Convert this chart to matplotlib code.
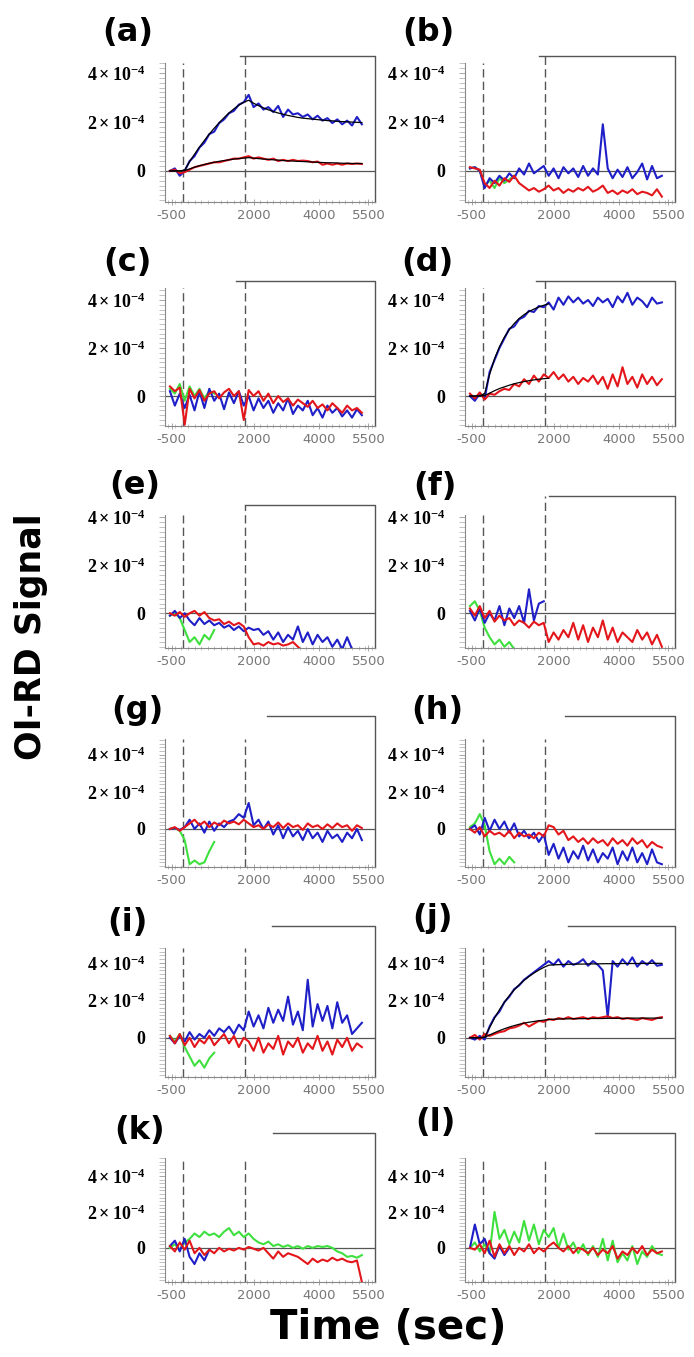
import numpy as np
import matplotlib
matplotlib.use('Agg')
import matplotlib.pyplot as plt
from matplotlib.ticker import MultipleLocator

plt.rcParams['mathtext.fontset'] = 'custom'
plt.rcParams['mathtext.rm'] = 'Liberation Serif:bold'
plt.rcParams['mathtext.it'] = 'Liberation Serif:bold'
plt.rcParams['mathtext.bf'] = 'Liberation Serif:bold'

W, H = 694, 1357

# sampling times of the traces (sec)
t = np.arange(-550, 5301, 150)

# signals in units of 1e-4
blue_a = [0.0, 0.1, -0.2, 0.0, 0.4, 0.6, 0.95, 1.15, 1.5, 1.6,
          1.95, 2.1, 2.35, 2.45, 2.7, 2.8, 3.1, 2.6, 2.75, 2.5,
          2.6, 2.4, 2.65, 2.2, 2.5, 2.3, 2.35, 2.2, 2.3, 2.1,
          2.25, 2.05, 2.15, 1.95, 2.1, 1.9, 2.05, 1.85, 2.2, 1.9]
red_a = [0.0, 0.05, -0.1, -0.05, 0.05, 0.15, 0.2, 0.25, 0.3, 0.35,
         0.35, 0.4, 0.45, 0.5, 0.5, 0.55, 0.6, 0.5, 0.55, 0.5,
         0.45, 0.5, 0.4, 0.45, 0.4, 0.45, 0.4, 0.42, 0.4, 0.35,
         0.38, 0.25, 0.3, 0.25, 0.3, 0.25, 0.3, 0.28, 0.3, 0.28]
fit_blue_a = [0, 0, 0, 0.03, 0.38, 0.68, 0.97, 1.24, 1.5, 1.74,
              1.96, 2.17, 2.36, 2.53, 2.68, 2.8, 2.88, 2.76, 2.66, 2.57,
              2.49, 2.42, 2.36, 2.31, 2.26, 2.22, 2.18, 2.15, 2.13, 2.11,
              2.09, 2.07, 2.05, 2.04, 2.02, 2.01, 2.0, 1.99, 1.98, 1.97]
fit_red_a = [0, 0, 0, 0.01, 0.08, 0.15, 0.21, 0.26, 0.31, 0.35,
             0.39, 0.42, 0.45, 0.48, 0.5, 0.52, 0.54, 0.52, 0.5, 0.48,
             0.47, 0.45, 0.44, 0.42, 0.41, 0.4, 0.39, 0.38, 0.37, 0.36,
             0.35, 0.34, 0.33, 0.33, 0.32, 0.31, 0.31, 0.3, 0.3, 0.3]

blue_b = [0.1, 0.15, 0.0, -0.7, -0.3, -0.5, -0.2, -0.4, -0.1, -0.3,
          0.1, -0.15, 0.3, -0.1, 0.05, 0.2, -0.2, 0.1, -0.3, 0.15,
          -0.1, 0.1, -0.25, 0.2, -0.2, 0.1, -0.15, 1.9, 0.1, -0.3,
          0.05, -0.25, 0.15, -0.3, -0.05, 0.3, -0.35, 0.2, -0.3, -0.2]
red_b = [0.15, 0.1, 0.05, -0.5, -0.7, -0.4, -0.6, -0.3, -0.45, -0.2,
         -0.5, -0.65, -0.8, -0.7, -0.85, -0.75, -0.6, -0.8, -0.7, -0.9,
         -0.75, -0.85, -0.7, -0.8, -0.65, -0.85, -0.75, -0.6, -0.9, -0.8,
         -0.95, -0.8, -0.9, -0.75, -0.95, -0.85, -0.9, -1.0, -0.75, -1.05]
green_b = [0.1, 0.15, 0.0, -0.6, -0.4, -0.7, -0.3, -0.5, -0.35, -0.2]

blue_c = [0.2, -0.4, 0.1, -0.5, 0.05, -0.6, 0.2, -0.5, 0.3, -0.2,
          0.1, -0.55, 0.15, -0.3, 0.2, -0.4, 0.0, -0.6, -0.1, -0.5,
          -0.2, -0.7, -0.3, -0.6, -0.1, -0.75, -0.4, -0.6, -0.2, -0.8,
          -0.5, -0.9, -0.4, -0.7, -0.5, -0.85, -0.6, -0.9, -0.55, -0.8]
red_c = [0.4, 0.2, 0.35, -1.2, 0.3, -0.1, 0.25, -0.2, 0.1, 0.2,
         -0.1, 0.15, 0.3, 0.0, 0.2, -1.0, 0.25, 0.0, 0.2, -0.2,
         0.1, -0.3, 0.0, -0.25, -0.1, -0.4, -0.15, -0.3, -0.45, -0.2,
         -0.5, -0.35, -0.6, -0.3, -0.5, -0.7, -0.4, -0.6, -0.5, -0.7]
green_c = [0.3, 0.1, 0.5, -0.2, 0.4, 0.0, 0.3, -0.1, 0.2, 0.1]

blue_d = [0.0, -0.2, 0.1, -0.1, 1.0, 1.5, 2.0, 2.4, 2.8, 2.9,
          3.2, 3.3, 3.55, 3.5, 3.75, 3.7, 3.9, 3.6, 4.1, 3.8,
          4.15, 3.9, 4.1, 3.85, 4.0, 3.75, 4.1, 3.9, 4.05, 3.7,
          4.15, 3.9, 4.3, 3.8, 4.1, 3.95, 3.7, 4.1, 3.85, 3.9]
red_d = [0.1, -0.1, 0.15, -0.15, 0.1, 0.05, 0.2, 0.3, 0.25, 0.5,
         0.4, 0.7, 0.5, 0.85, 0.6, 0.9, 0.75, 1.0, 0.7, 0.9,
         0.6, 0.8, 0.5, 0.75, 0.6, 0.85, 0.5, 0.8, 0.3, 0.9,
         0.4, 1.2, 0.5, 0.8, 0.35, 0.9, 0.5, 0.8, 0.45, 0.7]
fit_blue_d = [0, 0, 0, 0.1, 0.9, 1.55, 2.05, 2.45, 2.77, 3.02,
              3.23, 3.39, 3.52, 3.62, 3.71, 3.78, 3.84]
fit_red_d = [0, 0, 0, 0.02, 0.12, 0.22, 0.31, 0.38, 0.45, 0.51,
             0.56, 0.6, 0.64, 0.67, 0.7, 0.72, 0.74]

blue_e = [-0.1, 0.1, -0.2, 0.0, -0.3, -0.5, -0.2, -0.45, -0.3, -0.5,
          -0.4, -0.6, -0.5, -0.7, -0.55, -0.75, -0.6, -0.7, -0.65, -0.9,
          -0.75, -1.1, -0.8, -1.2, -0.9, -1.1, -0.55, -1.2, -0.8, -1.3,
          -0.9, -1.2, -1.0, -1.4, -1.1, -1.5, -1.0, -1.5]
red_e = [0.0, -0.1, 0.05, -0.15, 0.0, 0.1, -0.1, 0.05, -0.2, -0.3,
         -0.25, -0.45, -0.35, -0.5, -0.4, -0.55, -1.0, -1.3, -1.25, -1.35,
         -1.2, -1.3, -1.25, -1.35, -1.3, -1.2, -1.4, -1.6]
green_e = [-0.1, 0.0, -0.2, -0.7, -1.2, -1.0, -1.3, -0.9, -1.1, -0.7]

blue_f = [0.1, -0.3, 0.2, -0.4, 0.0, -0.3, 0.3, -0.5, 0.2, -0.2,
          0.3, -0.4, 1.0, -0.3, 0.4, 0.5]
red_f = [0.2, -0.1, 0.3, -0.2, 0.1, -0.35, -0.1, -0.3, -0.2, -0.5,
         -0.3, -0.4, -0.6, -0.35, -0.5, -0.4, -1.2, -0.8, -1.1, -0.7,
         -1.0, -0.4, -1.1, -0.5, -1.2, -0.6, -1.0, -0.3, -1.1, -0.6,
         -1.2, -0.8, -1.0, -1.2, -0.7, -1.1, -0.8, -1.3, -0.9, -1.4]
green_f = [0.3, 0.5, 0.1, -0.6, -1.0, -1.3, -1.1, -1.4, -1.2, -1.5]

blue_g = [0.0, 0.05, -0.05, 0.1, 0.5, 0.0, 0.3, -0.2, 0.4, -0.1,
          0.3, 0.1, 0.4, 0.5, 0.8, 0.6, 1.4, 0.2, 0.5, 0.0,
          0.4, -0.3, 0.2, -0.5, 0.1, -0.4, -0.1, -0.6, 0.0, -0.5,
          -0.2, -0.7, -0.1, -0.5, -0.3, -0.7, -0.2, -0.5, 0.0, -0.6]
red_g = [0.0, 0.1, -0.1, 0.1, 0.3, 0.5, 0.2, 0.4, 0.1, 0.35,
         0.2, 0.45, 0.3, 0.4, 0.25, 0.5, 0.3, 0.1, 0.2, 0.0,
         0.25, 0.1, 0.35, 0.05, 0.3, 0.1, 0.2, -0.05, 0.3, 0.1,
         0.2, 0.0, 0.25, 0.05, 0.3, 0.1, 0.2, -0.1, 0.2, 0.05]
green_g = [0.0, 0.05, -0.1, -0.6, -1.9, -1.7, -1.9, -1.8, -1.2, -0.7]

blue_h = [0.0, 0.2, -0.3, 0.6, -0.1, 0.5, 0.0, 0.4, -0.2, 0.3,
          -0.4, -0.1, -0.5, -0.2, -0.7, -0.3, -1.4, -0.8, -1.6, -1.0,
          -1.8, -1.2, -1.6, -0.9, -1.7, -1.1, -1.8, -1.3, -1.6, -1.0,
          -1.9, -1.2, -1.7, -1.0, -1.8, -1.3, -1.9, -1.1, -1.8, -1.9]
red_h = [0.0, -0.2, 0.1, -0.4, -0.1, -0.3, -0.2, -0.4, -0.1, -0.5,
         -0.2, -0.4, -0.3, -0.5, -0.2, -0.4, 0.2, 0.1, -0.3, -0.1,
         -0.6, -0.4, -0.7, -0.5, -0.8, -0.5, -0.75, -0.6, -0.9, -0.5,
         -0.8, -0.6, -0.9, -0.5, -0.8, -0.6, -1.0, -0.7, -0.9, -1.0]
green_h = [0.1, 0.3, 0.8, 0.2, -1.2, -1.9, -1.6, -1.9, -1.5, -1.8]

blue_i = [0.0, -0.3, 0.1, -0.2, 0.3, -0.1, 0.2, 0.0, 0.4, 0.1,
          0.5, 0.3, 0.6, 0.2, 0.7, 0.4, 1.4, 0.6, 1.2, 0.5,
          1.6, 0.8, 1.5, 0.9, 2.2, 0.7, 1.4, 0.4, 3.1, 0.6,
          1.8, 0.9, 1.7, 0.5, 1.9, 0.8, 1.2, 0.2, 0.5, 0.8]
red_i = [0.1, -0.3, 0.2, -0.4, 0.0, -0.5, -0.1, -0.3, 0.1, -0.4,
         -0.1, 0.2, -0.3, 0.1, -0.5, 0.0, -0.2, -0.7, 0.0, -0.8,
         -0.3, -0.6, 0.1, -0.9, -0.2, -0.5, 0.0, -0.8, -0.3, -0.6,
         0.1, -0.7, -0.2, -0.9, -0.1, -0.5, 0.0, -0.7, -0.3, -0.5]
green_i = [0.1, -0.2, 0.2, -0.5, -1.0, -1.5, -1.2, -1.6, -1.1, -0.8]

blue_j = [0.0, -0.1, 0.1, -0.1, 0.6, 1.1, 1.4, 1.9, 2.2, 2.6,
          2.8, 3.1, 3.3, 3.5, 3.7, 3.9, 4.1, 3.9, 4.2, 3.8,
          4.1, 3.9, 4.0, 4.2, 3.85, 4.1, 3.9, 3.6, 1.1, 4.1,
          3.8, 4.2, 3.9, 4.3, 3.8, 4.1, 3.9, 4.15, 3.85, 3.9]
red_j = [0.0, 0.15, -0.1, 0.2, 0.1, 0.2, 0.3, 0.35, 0.5, 0.55,
         0.65, 0.8, 0.6, 0.75, 0.9, 0.85, 1.0, 0.95, 1.05, 1.0,
         1.1, 1.0, 1.05, 1.1, 1.0, 1.1, 1.05, 1.1, 1.15, 1.05,
         1.1, 1.0, 1.05, 1.0, 0.95, 1.05, 1.0, 0.95, 1.05, 1.1]
fit_blue_j = [0, 0, 0, 0.03, 0.55, 1.05, 1.5, 1.9, 2.25, 2.56,
              2.83, 3.07, 3.28, 3.46, 3.62, 3.76, 3.88, 3.9, 3.91, 3.92,
              3.93, 3.93, 3.94, 3.94, 3.95, 3.95, 3.95, 3.96, 3.96, 3.96,
              3.96, 3.97, 3.97, 3.97, 3.97, 3.97, 3.98, 3.98, 3.98, 3.98]
fit_red_j = [0, 0, 0, 0.02, 0.15, 0.27, 0.38, 0.48, 0.57, 0.65,
             0.72, 0.78, 0.83, 0.87, 0.91, 0.94, 0.97, 0.99, 1.0, 1.01,
             1.01, 1.02, 1.02, 1.02, 1.03, 1.03, 1.03, 1.03, 1.04, 1.04,
             1.04, 1.04, 1.04, 1.05, 1.05, 1.05, 1.05, 1.05, 1.05, 1.05]

green_k = [0.0, 0.2, -0.1, 0.3, 0.5, 0.8, 0.6, 0.9, 0.7, 0.8,
           0.6, 0.9, 1.1, 0.7, 0.9, 0.6, 0.8, 0.5, 0.3, 0.2,
           0.35, 0.1, 0.2, 0.05, 0.15, 0.0, 0.1, -0.05, 0.1, 0.0,
           0.1, 0.05, 0.1, 0.0, -0.2, -0.3, -0.5, -0.45, -0.55, -0.4]
red_k = [0.1, -0.2, 0.3, -0.1, 0.4, -0.3, 0.0, -0.4, -0.1, -0.3,
         0.0, -0.2, -0.05, -0.15, 0.0, -0.1, 0.05, -0.05, -0.15, 0.0,
         -0.3, -0.6, -0.2, -0.5, -0.3, -0.4, -0.5, -0.7, -0.9, -0.6,
         -0.8, -0.65, -0.75, -0.55, -0.7, -0.6, -0.75, -0.8, -0.7, -1.9]
blue_k = [0.1, 0.4, -0.2, 0.5, -0.5, -0.9, -0.3, -0.7, -0.1]

green_l = [0.0, 0.3, -0.2, 0.2, -0.3, 2.0, 0.5, 1.0, 0.2, 0.9,
           0.3, 1.5, 0.4, 1.3, 0.2, 1.0, 0.6, 1.1, 0.0, 0.8,
           -0.1, 0.3, -0.3, 0.2, -0.4, 0.1, -0.5, 0.5, -0.7, 0.4,
           -0.8, -0.3, -0.7, 0.1, -0.9, -0.2, -0.5, 0.1, -0.3, -0.4]
red_l = [0.0, -0.1, 0.2, -0.3, 0.4, -0.5, 0.2, -0.3, 0.1, -0.4,
         0.0, -0.2, 0.2, -0.3, 0.0, -0.2, 0.1, 0.3, 0.0, -0.2,
         0.1, -0.3, 0.0, -0.1, -0.3, 0.0, -0.4, -0.1, -0.3, 0.1,
         -0.6, -0.2, -0.4, 0.0, -0.3, 0.1, -0.4, -0.1, -0.3, -0.2]
blue_l = [0.0, 1.3, 0.2, 0.5, -0.3, -0.6, 0.1, -0.4, 0.0]

panel_labels = ['(a)', '(b)', '(c)', '(d)', '(e)', '(f)',
                '(g)', '(h)', '(i)', '(j)', '(k)', '(l)']
panel_traces = [
    dict(blue=blue_a, red=red_a, fits=[fit_blue_a, fit_red_a]),
    dict(green=green_b, blue=blue_b, red=red_b),
    dict(green=green_c, blue=blue_c, red=red_c),
    dict(blue=blue_d, red=red_d, fits=[fit_blue_d, fit_red_d]),
    dict(green=green_e, blue=blue_e, red=red_e),
    dict(green=green_f, blue=blue_f, red=red_f),
    dict(green=green_g, blue=blue_g, red=red_g),
    dict(green=green_h, blue=blue_h, red=red_h),
    dict(green=green_i, blue=blue_i, red=red_i),
    dict(blue=blue_j, red=red_j, fits=[fit_blue_j, fit_red_j]),
    dict(green=green_k, blue=blue_k, red=red_k),
    dict(green=green_l, blue=blue_l, red=red_l),
]

x_ticks = [-500, 2000, 4000, 5500]
y_ticks = [0, 2e-4, 4e-4]
y_ticklabels = ['0', r'$\mathrm{2\times10^{-4}}$', r'$\mathrm{4\times10^{-4}}$']
inject_on, inject_off = -150, 1750

# layout in pixels
col_x = [(165, 375), (465, 675)]
row_y = [(63, 202), (288, 426), (515, 648), (739, 867), (948, 1077), (1158, 1282)]
row_ylim = [(-1.27, 4.4), (-1.25, 4.5), (-1.45, 4.1),
            (-2.05, 4.85), (-2.1, 4.8), (-1.9, 5.0)]
frame_top = [4.7, 4.7, 4.8, 4.8, 4.5, 4.9, 6.1, 6.1, 6.0, 6.0, 6.4, 6.4]
frame_start = [1600, 1550, 1450, 1450, 1750, 1850, 2400, 2350, 2550, 2450, 2600, 3250]
label_xy = [(128, 32), (428, 32), (127, 263), (427, 263), (135, 485), (435, 487),
            (137, 710), (437, 710), (127, 922), (433, 918), (140, 1130), (435, 1123)]

colors = {'green': '#3ee03e', 'blue': '#1f1fc8', 'red': '#e3161b'}
frame_col = '#555555'

fig = plt.figure(figsize=(W / 100, H / 100), dpi=100)

for k, tr in enumerate(panel_traces):
    row, col = divmod(k, 2)
    x0, x1 = col_x[col]
    ytop, ybot = row_y[row]
    ax = fig.add_axes([x0 / W, 1 - ybot / H, (x1 - x0) / W, (ybot - ytop) / H])
    ylo, yhi = row_ylim[row][0] * 1e-4, row_ylim[row][1] * 1e-4
    ax.set_xlim(-700, 5700)
    ax.set_ylim(ylo, yhi)

    for name in ['green', 'blue', 'red']:
        if name in tr:
            v = np.array(tr[name]) * 1e-4
            ax.plot(t[:len(v)], v, color=colors[name], lw=1.5, zorder=3)
    for f in tr.get('fits', []):
        v = np.array(f) * 1e-4
        ax.plot(t[:len(v)], v, color='black', lw=0.9, zorder=4)

    ax.axhline(0, color=frame_col, lw=0.9, zorder=2)
    ax.axvline(inject_on, color=frame_col, lw=1.0, ls=(0, (6, 3)), zorder=2)
    top = frame_top[k] * 1e-4
    off_top = top if row < 3 else yhi
    ax.plot([inject_off, inject_off], [ylo, off_top], color=frame_col, lw=1.0,
            ls=(0, (6, 3)), clip_on=False, zorder=2)
    # partial box: top line and right edge
    ax.plot([frame_start[k], 5700, 5700], [top, top, ylo], color=frame_col,
            lw=1.0, clip_on=False, zorder=2)

    for s in ['top', 'right']:
        ax.spines[s].set_visible(False)
    ax.spines['left'].set_color('#888888')
    ax.spines['bottom'].set_color('#888888')

    ax.set_xticks(x_ticks)
    ax.set_xticklabels([str(v) for v in x_ticks], fontsize=9.5, color='#777777')
    ax.xaxis.set_minor_locator(MultipleLocator(200))
    ax.set_yticks(y_ticks)
    ax.set_yticklabels(y_ticklabels, fontsize=13, fontweight='bold',
                       fontfamily='Liberation Serif')
    ax.yaxis.set_minor_locator(MultipleLocator(0.2e-4))
    ax.tick_params(axis='y', which='major', length=4, width=0.6, color='#999999', pad=10)
    ax.tick_params(axis='y', which='minor', length=4, width=0.5, color='#aaaaaa',
                   direction='out')
    ax.tick_params(axis='x', which='major', length=4, width=0.6, color='#999999',
                   direction='inout', pad=3)
    ax.tick_params(axis='x', which='minor', length=3, width=0.5, color='#aaaaaa',
                   direction='inout')
    ax.patch.set_alpha(0)

    lx, ly = label_xy[k]
    fig.text(lx / W, 1 - ly / H, panel_labels[k], fontsize=23, fontweight='bold',
             fontfamily='DejaVu Sans', ha='center', va='center')

fig.text(31 / W, 1 - 637 / H, 'OI-RD Signal', rotation=90, fontsize=25,
         fontweight='bold', fontfamily='DejaVu Sans', ha='center', va='center')
fig.text(388 / W, 1 - 1328 / H, 'Time (sec)', fontsize=29,
         fontweight='bold', fontfamily='DejaVu Sans', ha='center', va='center')

fig.savefig('out.png', dpi=100)
